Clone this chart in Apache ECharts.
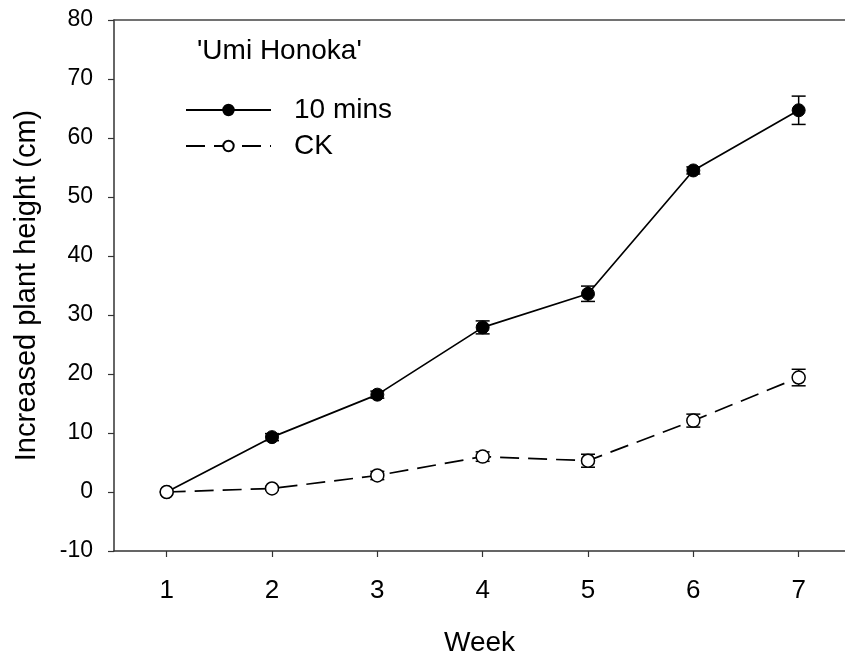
<!DOCTYPE html>
<html>
<head>
<meta charset="utf-8">
<script src="https://cdn.jsdelivr.net/npm/echarts@6/dist/echarts.min.js"></script>
<style>html,body{margin:0;padding:0;background:#fff}#c{width:845px;height:655px}</style>
</head>
<body>
<div id="c"></div>
<script>
const weeks = [1, 2, 3, 4, 5, 6, 7];
const tenMins = [0, 9.3, 16.5, 27.9, 33.6, 54.5, 64.7];
const tenMinsErr = [0, 0.6, 0.6, 1.1, 1.3, 0.6, 2.4];
const ck = [0, 0.6, 2.8, 6.0, 5.3, 12.1, 19.4];
const ckErr = [0, 0.3, 0.7, 0.8, 1.1, 1.1, 1.4];
const yTicks = [-10, 0, 10, 20, 30, 40, 50, 60, 70, 80];

const FONT = 'Liberation Sans, Arial, sans-serif';
const X_MIN = 0.5, X_MAX = 7.44;
const chart = echarts.init(document.getElementById('c'));

function errSeries(vals, errs) {
  return {
    type: 'custom',
    z: 1,
    silent: true,
    data: weeks.map((w, i) => [w, vals[i] - errs[i], vals[i] + errs[i]]),
    renderItem: function (params, api) {
      if (api.value(2) - api.value(1) <= 0) return null;
      const lo = api.coord([api.value(0), api.value(1)]);
      const hi = api.coord([api.value(0), api.value(2)]);
      const hw = 7;
      const st = { stroke: '#000', lineWidth: 1.5 };
      return {
        type: 'group',
        children: [
          { type: 'line', shape: { x1: lo[0], y1: lo[1], x2: hi[0], y2: hi[1] }, style: st },
          { type: 'line', shape: { x1: lo[0] - hw, y1: lo[1], x2: lo[0] + hw, y2: lo[1] }, style: st },
          { type: 'line', shape: { x1: hi[0] - hw, y1: hi[1], x2: hi[0] + hw, y2: hi[1] }, style: st }
        ]
      };
    }
  };
}

chart.setOption({
  animation: false,
  backgroundColor: '#fff',
  grid: { left: 114, right: 0, top: 20, bottom: 104, outerBoundsMode: 'none', containLabel: false },
  title: {
    text: "'Umi Honoka'",
    left: 192, top: 32,
    textStyle: { fontFamily: FONT, fontSize: 28, fontWeight: 'normal', color: '#000', lineHeight: 28 }
  },
  legend: {
    orient: 'vertical',
    left: 180, top: 91,
    itemWidth: 85, itemHeight: 13,
    itemGap: 8,
    textStyle: { fontFamily: FONT, fontSize: 28, lineHeight: 28, color: '#000', padding: [0, 0, 0, 18] },
    data: ['10 mins', 'CK']
  },
  xAxis: [{
    type: 'value', min: X_MIN, max: X_MAX,
    axisLine: { onZero: false, lineStyle: { color: '#333', width: 1.5 } },
    axisTick: { show: true, length: 6, customValues: weeks, lineStyle: { color: '#333', width: 1.2 } },
    axisLabel: { fontFamily: FONT, fontSize: 26, color: '#000', margin: 27, customValues: weeks },
    splitLine: { show: false },
    name: 'Week', nameLocation: 'middle', nameGap: 78,
    nameTextStyle: { fontFamily: FONT, fontSize: 28, color: '#000' }
  }, {
    type: 'value', min: X_MIN, max: X_MAX, position: 'top',
    axisLine: { show: true, onZero: false, lineStyle: { color: '#444', width: 1.5 } },
    axisTick: { show: false }, axisLabel: { show: false }, splitLine: { show: false }
  }],
  yAxis: {
    type: 'value', min: yTicks[0], max: yTicks[yTicks.length - 1], interval: 10,
    axisLine: { show: true, onZero: false, lineStyle: { color: '#333', width: 1.5 } },
    axisTick: { show: true, length: 6, lineStyle: { color: '#333', width: 1.2 } },
    axisLabel: { fontFamily: FONT, fontSize: 23, color: '#000', margin: 21 },
    splitLine: { show: false },
    name: 'Increased plant height (cm)', nameLocation: 'middle', nameGap: 73, nameRotate: 90,
    nameTextStyle: { fontFamily: FONT, fontSize: 29, color: '#000' }
  },
  series: [
    errSeries(tenMins, tenMinsErr),
    errSeries(ck, ckErr),
    {
      name: '10 mins', type: 'line', z: 3,
      data: weeks.map((w, i) => [w, tenMins[i]]),
      symbol: 'circle', symbolSize: 13,
      lineStyle: { color: '#000', width: 1.7 },
      itemStyle: { color: '#000', borderColor: '#000', borderWidth: 1 }
    },
    {
      name: 'CK', type: 'line', z: 4,
      data: weeks.map((w, i) => [w, ck[i]]),
      symbol: 'circle', symbolSize: 13,
      lineStyle: { color: '#000', width: 1.7, type: [19, 9] },
      itemStyle: { color: '#fff', borderColor: '#000', borderWidth: 1.5 }
    }
  ]
});
</script>
</body>
</html>
